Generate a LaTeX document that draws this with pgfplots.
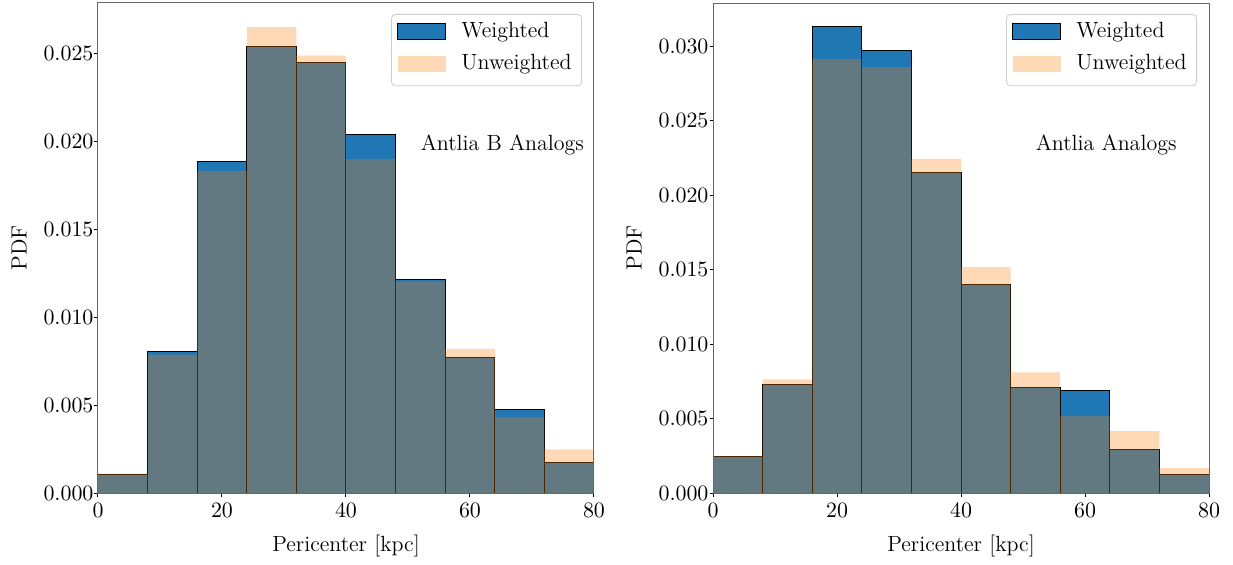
\documentclass[border=0pt]{standalone}
\usepackage{pgfplots}
\pgfplotsset{compat=1.18}
\definecolor{cblue}{HTML}{1F77B4}
\definecolor{corange}{HTML}{FF7F0E}
\newcommand{\fs}{\fontsize{11}{13.2}\selectfont}
\pgfplotsset{
  histaxis/.style={
    scale only axis, width=248pt, height=245pt,
    xmin=0, xmax=80, ymin=0,
    xtick={0,20,40,60,80},
    axis line style={black!60, line width=0.5pt},
    tick style={black, line width=0.5pt},
    tick align=outside, major tick length=1.75pt,
    tick pos=left,
    scaled y ticks=false,
    tick label style={font=\fs},
    yticklabel style={xshift=3pt, /pgf/number format/.cd, fixed, fixed zerofill, precision=3},
    label style={font=\fs},
    xlabel={Pericenter [kpc]},
    ylabel={PDF},
    xlabel style={at={(axis description cs:0.5,-0.108)}, anchor=center},
    ylabel style={at={(axis description cs:-0.159,0.5)}, anchor=center},
    legend style={at={(axis description cs:1,1)}, anchor=north east, xshift=-6pt, yshift=-5.5pt,
      draw=black!20, rounded corners=2pt, fill=white,
      font=\fs, row sep=3pt, inner xsep=3pt, inner ysep=2pt, cells={anchor=west}},
    legend cell align=left,
    axis on top,
  },
  wstyle/.style={ybar interval, fill=cblue, draw=black, line width=0.5pt,
    legend image code/.code={\draw[##1, sharp corners] (0pt,-4pt) rectangle (24pt,4pt); \path (29.5pt,0pt);}},
  ustyle/.style={ybar interval, fill=corange, fill opacity=0.3, draw=none,
    legend image code/.code={\fill[##1, sharp corners] (0pt,-4pt) rectangle (24pt,4pt); \path (29.5pt,-9pt);}},
}
\begin{document}
\begin{tikzpicture}
\path[use as bounding box] (-49pt,-35.5pt) rectangle (567.5pt,246.5pt);
\begin{axis}[histaxis, ymax=0.0279, ytick={0,0.005,0.010,0.015,0.020,0.025}]
\addplot[wstyle] coordinates {(0,0.00104) (8,0.00806) (16,0.01887) (24,0.02545) (32,0.02453) (40,0.02042) (48,0.01213) (56,0.00770) (64,0.00478) (72,0.00175) (80,0.00175)};
\addlegendentry{Weighted}
\addplot[ustyle] coordinates {(0,0.00110) (8,0.00788) (16,0.01834) (24,0.02653) (32,0.02490) (40,0.01903) (48,0.01205) (56,0.00820) (64,0.00434) (72,0.00248) (80,0.00248)};
\addlegendentry{Unweighted}
\node[anchor=base west, inner sep=0pt, font=\fs] at (axis description cs:0.65,0.70) {Antlia B Analogs};
\end{axis}
\begin{axis}[histaxis, at={(307.5pt,0pt)}, ymax=0.0329, ytick={0,0.005,0.010,0.015,0.020,0.025,0.030}]
\addplot[wstyle] coordinates {(0,0.00248) (8,0.00728) (16,0.03134) (24,0.02973) (32,0.02152) (40,0.01401) (48,0.00708) (56,0.00690) (64,0.00293) (72,0.00127) (80,0.00127)};
\addlegendentry{Weighted}
\addplot[ustyle] coordinates {(0,0.00248) (8,0.00763) (16,0.02915) (24,0.02860) (32,0.02243) (40,0.01517) (48,0.00810) (56,0.00516) (64,0.00415) (72,0.00167) (80,0.00167)};
\addlegendentry{Unweighted}
\node[anchor=base west, inner sep=0pt, font=\fs] at (axis description cs:0.65,0.70) {Antlia Analogs};
\end{axis}
\end{tikzpicture}
\end{document}
